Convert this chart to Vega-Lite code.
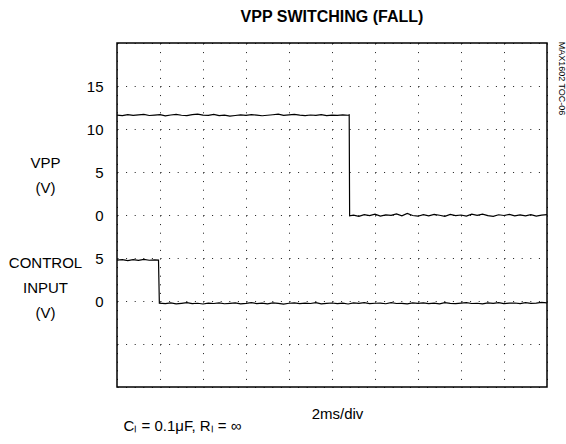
{
  "$schema": "https://vega.github.io/schema/vega-lite/v6.json",
  "width": 430,
  "height": 344,
  "autosize": {"type": "none"},
  "padding": {"left": 117, "top": 43, "right": 19, "bottom": 57},
  "background": "white",
  "config": {
    "font": "Liberation Sans, Arial, sans-serif",
    "view": {"stroke": "black", "strokeWidth": 1.5},
    "axis": {"titleFontWeight": "normal", "titleColor": "black", "labelColor": "black"}
  },
  "title": {
    "text": "VPP SWITCHING (FALL)",
    "fontSize": 16,
    "fontWeight": "bold",
    "color": "black",
    "anchor": "middle",
    "frame": "group",
    "baseline": "alphabetic",
    "offset": 3
  },
  "datasets": {
    "vpp": [
      {"t":0,"v":11.62},{"t":0.25,"v":11.55},{"t":0.5,"v":11.68},{"t":0.75,"v":11.58},{"t":1,"v":11.64},{"t":1.25,"v":11.70},{"t":1.5,"v":11.57},{"t":1.75,"v":11.61},{"t":2,"v":11.66},{"t":2.25,"v":11.52},{"t":2.5,"v":11.63},{"t":2.75,"v":11.71},{"t":3,"v":11.60},{"t":3.25,"v":11.56},{"t":3.5,"v":11.67},{"t":3.75,"v":11.74},{"t":4,"v":11.62},{"t":4.25,"v":11.58},{"t":4.5,"v":11.69},{"t":4.75,"v":11.55},{"t":5,"v":11.61},{"t":5.25,"v":11.50},{"t":5.5,"v":11.57},{"t":5.75,"v":11.65},{"t":6,"v":11.59},{"t":6.25,"v":11.68},{"t":6.5,"v":11.62},{"t":6.75,"v":11.54},{"t":7,"v":11.60},{"t":7.25,"v":11.66},{"t":7.5,"v":11.73},{"t":7.75,"v":11.58},{"t":8,"v":11.64},{"t":8.25,"v":11.70},{"t":8.5,"v":11.61},{"t":8.75,"v":11.56},{"t":9,"v":11.63},{"t":9.25,"v":11.59},{"t":9.5,"v":11.67},{"t":9.75,"v":11.55},{"t":10,"v":11.62},{"t":10.25,"v":11.58},{"t":10.5,"v":11.64},{"t":10.75,"v":11.60},
      {"t":10.8,"v":11.65},{"t":10.82,"v":-0.10},
      {"t":11,"v":-0.02},{"t":11.25,"v":-0.15},{"t":11.5,"v":0.05},{"t":11.75,"v":-0.08},{"t":12,"v":0.10},{"t":12.25,"v":-0.12},{"t":12.5,"v":0.02},{"t":12.75,"v":-0.05},{"t":13,"v":0.12},{"t":13.25,"v":-0.10},{"t":13.5,"v":0.18},{"t":13.75,"v":-0.06},{"t":14,"v":-0.14},{"t":14.25,"v":0.04},{"t":14.5,"v":-0.09},{"t":14.75,"v":0.08},{"t":15,"v":-0.03},{"t":15.25,"v":-0.16},{"t":15.5,"v":0.06},{"t":15.75,"v":-0.07},{"t":16,"v":0.00},{"t":16.25,"v":-0.12},{"t":16.5,"v":0.09},{"t":16.75,"v":-0.04},{"t":17,"v":0.11},{"t":17.25,"v":-0.08},{"t":17.5,"v":-0.15},{"t":17.75,"v":0.03},{"t":18,"v":-0.06},{"t":18.25,"v":0.07},{"t":18.5,"v":-0.11},{"t":18.75,"v":0.01},{"t":19,"v":-0.09},{"t":19.25,"v":0.05},{"t":19.5,"v":-0.13},{"t":19.75,"v":-0.02},{"t":20,"v":0.04}
    ],
    "ctl": [
      {"t":0,"v":4.75},{"t":0.25,"v":4.82},{"t":0.5,"v":4.70},{"t":0.75,"v":4.80},{"t":1,"v":4.72},{"t":1.25,"v":4.85},{"t":1.5,"v":4.74},{"t":1.75,"v":4.79},{"t":1.93,"v":4.76},{"t":1.97,"v":-0.25},{"t":2.25,"v":-0.30},{"t":2.5,"v":-0.22},{"t":2.75,"v":-0.33},{"t":3,"v":-0.27},{"t":3.25,"v":-0.20},{"t":3.5,"v":-0.31},{"t":3.75,"v":-0.26},{"t":4,"v":-0.35},{"t":4.25,"v":-0.24},{"t":4.5,"v":-0.29},{"t":4.75,"v":-0.21},{"t":5,"v":-0.32},{"t":5.25,"v":-0.27},{"t":5.5,"v":-0.23},{"t":5.75,"v":-0.34},{"t":6,"v":-0.28},{"t":6.25,"v":-0.19},{"t":6.5,"v":-0.30},{"t":6.75,"v":-0.25},{"t":7,"v":-0.33},{"t":7.25,"v":-0.22},{"t":7.5,"v":-0.28},{"t":7.75,"v":-0.36},{"t":8,"v":-0.26},{"t":8.25,"v":-0.21},{"t":8.5,"v":-0.31},{"t":8.75,"v":-0.24},{"t":9,"v":-0.29},{"t":9.25,"v":-0.18},{"t":9.5,"v":-0.33},{"t":9.75,"v":-0.27},{"t":10,"v":-0.23},{"t":10.25,"v":-0.30},{"t":10.5,"v":-0.25},{"t":10.75,"v":-0.35},{"t":11,"v":-0.22},{"t":11.25,"v":-0.28},{"t":11.5,"v":-0.20},{"t":11.75,"v":-0.31},{"t":12,"v":-0.26},{"t":12.25,"v":-0.24},{"t":12.5,"v":-0.32},{"t":12.75,"v":-0.19},{"t":13,"v":-0.29},{"t":13.25,"v":-0.27},{"t":13.5,"v":-0.34},{"t":13.75,"v":-0.23},{"t":14,"v":-0.28},{"t":14.25,"v":-0.21},{"t":14.5,"v":-0.30},{"t":14.75,"v":-0.25},{"t":15,"v":-0.33},{"t":15.25,"v":-0.20},{"t":15.5,"v":-0.27},{"t":15.75,"v":-0.31},{"t":16,"v":-0.24},{"t":16.25,"v":-0.18},{"t":16.5,"v":-0.29},{"t":16.75,"v":-0.26},{"t":17,"v":-0.34},{"t":17.25,"v":-0.22},{"t":17.5,"v":-0.28},{"t":17.75,"v":-0.19},{"t":18,"v":-0.31},{"t":18.25,"v":-0.25},{"t":18.5,"v":-0.23},{"t":18.75,"v":-0.30},{"t":19,"v":-0.20},{"t":19.25,"v":-0.27},{"t":19.5,"v":-0.24},{"t":19.75,"v":-0.17},{"t":20,"v":-0.22}
    ]
  },
  "layer": [
    {
      "data": {"name": "vpp"},
      "mark": {"type": "line", "color": "black", "strokeWidth": 1.2, "clip": true},
      "encoding": {
        "x": {
          "field": "t", "type": "quantitative",
          "scale": {"domain": [0, 20], "nice": false, "zero": false},
          "axis": {
            "values": [0, 2, 4, 6, 8, 10, 12, 14, 16, 18, 20],
            "grid": true, "gridColor": "black", "gridDash": [1, 7.6], "gridWidth": 1, "gridOpacity": 0.9,
            "labels": false, "ticks": false, "domain": false,
            "title": "2ms/div", "titleFontSize": 15, "titleBaseline": "alphabetic",
            "titleX": 220, "titleY": 31, "titleAlign": "center"
          }
        },
        "y": {
          "field": "v", "type": "quantitative",
          "scale": {"domain": [-20, 20], "nice": false, "zero": false},
          "axis": {
            "orient": "left",
            "values": [-20, -15, -10, -5, 0, 5, 10, 15, 20],
            "grid": true, "gridColor": "black", "gridDash": [1, 7.6], "gridWidth": 1, "gridOpacity": 0.9,
            "ticks": false, "domain": false,
            "labelExpr": "datum.value == -5 ? '5' : datum.value == -10 ? '0' : (datum.value >= 0 && datum.value <= 15) ? datum.label : ''",
            "labelFontSize": 15, "labelPadding": 14, "labelBaseline": "middle",
            "title": ["VPP", "(V)", "\u2800", "\u2800", "CONTROL", "INPUT", "(V)"],
            "titleFontSize": 15, "titleLineHeight": 25, "titleAngle": 0,
            "titleAlign": "center", "titleBaseline": "alphabetic",
            "titleX": -72, "titleY": 124
          }
        }
      }
    },
    {
      "data": {"name": "ctl"},
      "mark": {"type": "line", "color": "black", "strokeWidth": 1.2, "clip": true},
      "encoding": {
        "x": {
          "field": "t", "type": "quantitative",
          "scale": {"domain": [0, 20], "nice": false, "zero": false},
          "axis": {
            "orient": "bottom",
            "grid": false, "labels": false, "ticks": false, "domain": false,
            "title": "C\u2097 = 0.1\u03bcF, R\u2097 = \u221e", "titleFontSize": 15, "titleBaseline": "alphabetic",
            "titleAlign": "left", "titleX": 6, "titleY": 43
          }
        },
        "y": {
          "field": "v", "type": "quantitative",
          "scale": {"domain": [-10, 30], "nice": false, "zero": false},
          "axis": {
            "orient": "right",
            "grid": false, "labels": false, "ticks": false, "domain": false,
            "title": "MAX1602 TOC-06", "titleFontSize": 9, "titleAngle": 90,
            "titleAlign": "center", "titleBaseline": "middle",
            "titleX": 14, "titleY": 35
          }
        }
      }
    }
  ],
  "resolve": {"scale": {"x": "independent", "y": "independent"}, "axis": {"x": "independent", "y": "independent"}}
}
